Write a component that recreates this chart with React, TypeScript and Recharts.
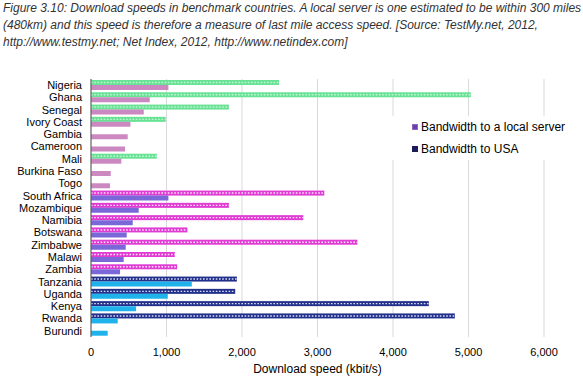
import React from "react";
import { BarChart, Bar, XAxis, YAxis, CartesianGrid, Cell, Label } from "recharts";

const countries = [
  "Nigeria", "Ghana", "Senegal", "Ivory Coast", "Gambia", "Cameroon", "Mali", "Burkina Faso", "Togo",
  "South Africa", "Mozambique", "Namibia", "Botswana", "Zimbabwe", "Malawi", "Zambia",
  "Tanzania", "Uganda", "Kenya", "Rwanda", "Burundi",
];
const regions = [
  "west", "west", "west", "west", "west", "west", "west", "west", "west",
  "south", "south", "south", "south", "south", "south", "south",
  "east", "east", "east", "east", "east",
];
const localServer = [
  2490, 5030, 1826, 990, null, null, 871, null, null,
  3090, 1826, 2812, 1277, 3528, 1110, 1141,
  1932, 1910, 4474, 4819, null,
];
const usaSpeed = [
  1025, 778, 699, 522, 486, 451, 402, 261, 252,
  1025, 632, 553, 473, 460, 433, 385,
  1335, 1017, 597, 354, 221,
];
const xTicks = [0, 1000, 2000, 3000, 4000, 5000, 6000];

const localColors: Record<string, { base: string; dot: string }> = {
  west: { base: "#68e294", dot: "#c4f3d2" },
  south: { base: "#e03cd4", dot: "#fbe0f8" },
  east: { base: "#22308c", dot: "#d8dcf0" },
};
const usaColors: Record<string, string> = {
  west: "#cc88c0",
  south: "#7b68d8",
  east: "#20b2ea",
};

const data = countries.map((c, i) => ({
  country: c,
  region: regions[i],
  local: localServer[i],
  usa: usaSpeed[i],
}));

const FONT = "'Liberation Sans', Arial, sans-serif";

const LocalShape = (props: any) => {
  const { x, y, width, height, payload } = props;
  if (!width || width <= 0) return null;
  const col = localColors[payload.region];
  const cy = y + height / 2;
  return (
    <g>
      <rect x={x} y={y} width={width} height={height} fill={col.base} />
      <line
        x1={x}
        x2={x + width}
        y1={cy}
        y2={cy}
        stroke={col.dot}
        strokeWidth={1.4}
        strokeDasharray="1.6 1.6"
      />
    </g>
  );
};

export default function App() {
  return (
    <div style={{ position: "absolute", left: 0, top: 0, width: 583, height: 378, background: "#fff", fontFamily: FONT }}>
      <div
        style={{
          position: "absolute",
          left: 3,
          top: 0,
          fontSize: 12,
          lineHeight: "17px",
          fontStyle: "italic",
          color: "#333",
          whiteSpace: "nowrap",
        }}
      >
        <div>Figure 3.10: Download speeds in benchmark countries. A local server is one estimated to be within 300 miles</div>
        <div>(480km) and this speed is therefore a measure of last mile access speed. [Source: TestMy.net, 2012,</div>
        <div>http://www.testmy.net; Net Index, 2012, http://www.netindex.com]</div>
      </div>
      <div style={{ position: "absolute", left: 0, top: 0 }}>
        <BarChart
          width={583}
          height={378}
          data={data}
          layout="vertical"
          margin={{ top: 79, right: 39, bottom: 5, left: 0 }}
          barGap={0}
          barSize={5}
        >
          <CartesianGrid horizontal={false} stroke="#d9d9d9" />
          <XAxis
            type="number"
            domain={[0, 6000]}
            ticks={xTicks}
            axisLine={false}
            tickLine={false}
            tickSize={0}
            tickMargin={11}
            height={36}
            tick={{ fontSize: 11, fill: "#000", fontFamily: FONT }}
            tickFormatter={(v: number) => v.toLocaleString("en-US")}
          >
            <Label
              value="Download speed (kbit/s)"
              position="insideBottom"
              offset={0}
              style={{ fontSize: 12, fill: "#000", fontFamily: FONT }}
            />
          </XAxis>
          <YAxis
            type="category"
            dataKey="country"
            width={91}
            interval={0}
            axisLine={{ stroke: "#555" }}
            tickLine={false}
            tickSize={0}
            tickMargin={9}
            tick={{ fontSize: 11, fill: "#000", fontFamily: FONT }}
          />
          <Bar dataKey="local" isAnimationActive={false} shape={<LocalShape />} />
          <Bar dataKey="usa" isAnimationActive={false}>
            {data.map((d, i) => (
              <Cell key={i} fill={usaColors[d.region]} />
            ))}
          </Bar>
        </BarChart>
      </div>
      <div
        style={{
          position: "absolute",
          left: 390,
          top: 116,
          width: 185,
          height: 44,
          background: "#fff",
          fontSize: 12,
          color: "#000",
        }}
      >
        <div style={{ position: "absolute", left: 22, top: 4, display: "flex", alignItems: "center", whiteSpace: "nowrap" }}>
          <span style={{ display: "inline-block", width: 6, height: 6, background: "#6a40a8", border: "1px solid #8a6ac0", boxSizing: "border-box", marginRight: 3 }} />
          Bandwidth to a local server
        </div>
        <div style={{ position: "absolute", left: 22, top: 26, display: "flex", alignItems: "center", whiteSpace: "nowrap" }}>
          <span style={{ display: "inline-block", width: 6, height: 6, background: "#1c1c58", marginRight: 3 }} />
          Bandwidth to USA
        </div>
      </div>
    </div>
  );
}
